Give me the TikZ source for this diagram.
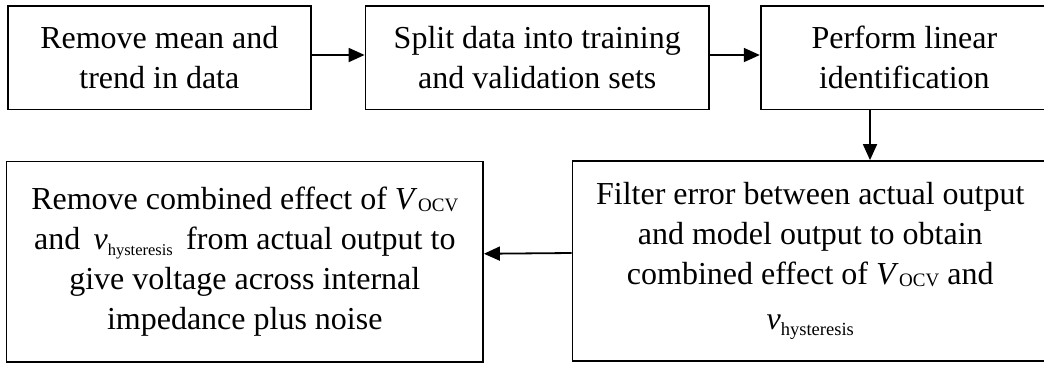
\documentclass[tikz,border=0pt]{standalone}
\usepackage{fontspec}
\setmainfont{Liberation Serif}
\usetikzlibrary{arrows.meta}
\newcommand{\VOCV}{\textit{V}\kern0.5pt\raisebox{-2pt}{\fontsize{19}{19}\selectfont OCV}}
\newcommand{\vhyst}[1]{\textit{v}\raisebox{-6pt}{\fontsize{#1}{#1}\selectfont hysteresis}}
\begin{document}
\begin{tikzpicture}[x=1pt,y=-1pt,
  box/.style={draw,line width=1.8pt,rectangle,inner sep=0pt,align=center,
    font=\fontsize{32}{40}\selectfont},
  arr/.style={-{Triangle[length=16pt,width=14pt]},line width=1.8pt}]
\useasboundingbox (0,0) rectangle (1044,365);
\clip (0,0) rectangle (1044,365);
\node[box,minimum width=302.7pt,minimum height=103.5pt] (b1) at (159.35,57.75)
  {Remove mean and\\trend in data};
\node[box,minimum width=343.5pt,minimum height=103.5pt] (b2) at (537.25,57.75)
  {Split data into training\\and validation sets};
\node[box,minimum width=287.3pt,minimum height=103.5pt] (b3) at (904.35,57.75)
  {Perform linear\\identification};
\node[box,minimum width=475.5pt,minimum height=200pt] (b4) at (810.25,261)
  {Filter error between actual output\\and model output to obtain\\combined effect of \VOCV{} and\\[5pt]\vhyst{18.5}};
\node[box,minimum width=476.5pt,minimum height=200.5pt] (b5) at (244.75,261.75)
  {Remove combined effect of \VOCV\\and \,\vhyst{16.5}\, from actual output to\\give voltage across internal\\impedance plus noise};
\draw[arr] ([yshift=2.75pt]b1.east) -- ([yshift=2.75pt]b2.west);
\draw[arr] ([yshift=2.75pt]b2.east) -- ([yshift=2.75pt]b3.west);
\draw[arr] ([xshift=-34.35pt]b3.south) -- ([xshift=-34.35pt]b3.south |- b4.north);
\draw[arr] ([yshift=8pt]b4.west) -- ([yshift=8pt]b5.east);
\end{tikzpicture}
\end{document}
